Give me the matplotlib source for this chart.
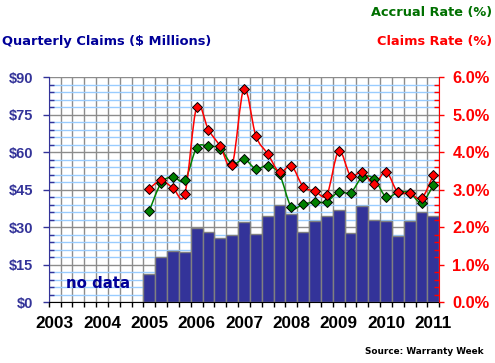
import numpy as np
import matplotlib
matplotlib.use("Agg")
import matplotlib.pyplot as plt
from matplotlib.path import Path
from matplotlib.patches import PathPatch
from matplotlib.ticker import MultipleLocator, FuncFormatter, FixedLocator

# quarters 2003Q1 .. 2011Q1, data begins 2005Q1
years = ["2003", "2004", "2005", "2006", "2007", "2008", "2009", "2010", "2011"]
first_data_quarter = 8
claims = [11.2, 18.3, 20.5, 20.3, 29.7, 28.1, 25.9, 27.1, 32.1, 27.5, 34.7, 39.1,
          35.5, 28.1, 32.5, 34.7, 36.9, 27.7, 38.5, 33.1, 32.5, 26.7, 32.5, 36.1, 34.7]
claims_rate = [3.03, 3.25, 3.05, 2.89, 5.21, 4.60, 4.16, 3.67, 5.70, 4.44, 3.96, 3.47,
               3.64, 3.08, 2.97, 2.87, 4.03, 3.38, 3.48, 3.15, 3.48, 2.93, 2.92, 2.77, 3.40]
accrual_rate = [2.44, 3.18, 3.34, 3.25, 4.12, 4.16, 4.10, 3.68, 3.82, 3.56, 3.64, 3.41,
                2.54, 2.62, 2.67, 2.68, 2.95, 2.92, 3.34, 3.29, 2.81, 2.93, 2.92, 2.66, 3.12]

NAVY = "#333399"
GREEN = "#007000"
RED = "#ff0000"

n_slots = 33
x = np.arange(first_data_quarter, first_data_quarter + len(claims))


def smooth_path(xs, ys):
    # Excel-style smoothed line: bezier segments through each point
    pts = np.column_stack([np.asarray(xs, float), np.asarray(ys, float)])
    verts = [pts[0]]
    codes = [Path.MOVETO]
    for i in range(len(pts) - 1):
        p0 = pts[i - 1] if i > 0 else pts[i]
        p1, p2 = pts[i], pts[i + 1]
        p3 = pts[i + 2] if i + 2 < len(pts) else pts[i + 1]
        verts += [p1 + (p2 - p0) / 6, p2 - (p3 - p1) / 6, p2]
        codes += [Path.CURVE4] * 3
    return Path(verts, codes)


fig = plt.figure(figsize=(4.95, 3.63), dpi=100)
ax = fig.add_axes([48.7 / 495, 1 - 302.3 / 363, (439.3 - 48.7) / 495, (302.3 - 77.3) / 363])

ax.bar(x, claims, width=1.0, color=NAVY, edgecolor="#808080", linewidth=1, zorder=2)
ax.set_xlim(-0.5, n_slots - 0.5)
ax.set_ylim(0, 90)
ax.set_axisbelow(True)

ax.yaxis.set_major_locator(MultipleLocator(15))
ax.yaxis.set_minor_locator(MultipleLocator(3))
ax.yaxis.set_major_formatter(FuncFormatter(lambda v, p: "$%d" % v))
ax.xaxis.set_major_locator(FixedLocator(np.arange(0, n_slots, 4)))
ax.set_xticklabels(years)
ax.xaxis.set_minor_locator(FixedLocator(np.arange(-0.5, n_slots, 1)))

ax.grid(which="minor", axis="y", color="#99ccff", linewidth=1)
ax.grid(which="major", axis="y", color="#8c8c8c", linewidth=1)
ax.grid(which="minor", axis="x", color="#8c8c8c", linewidth=1)

ax.tick_params(axis="y", which="major", direction="out", length=4, width=1,
               colors=NAVY, labelsize=10.5, pad=7)
ax.tick_params(axis="y", which="minor", direction="in", length=3.5, width=1, color=NAVY)
ax.tick_params(axis="x", which="major", length=0, labelsize=12.3, pad=10, labelcolor="black")
ax.tick_params(axis="x", which="minor", direction="out", length=3.5, width=1, color="black")
for lab in ax.get_yticklabels() + ax.get_xticklabels():
    lab.set_fontweight("bold")
    lab.set_fontfamily("Liberation Sans")

ax.spines["top"].set_visible(False)
ax.spines["right"].set_visible(False)
ax.spines["left"].set_color(NAVY)
ax.spines["bottom"].set_color("black")

ax.text(1.0, 5.6, "no data", color="#000099", fontsize=10.8, fontweight="bold",
        family="DejaVu Sans", ha="left", va="baseline", zorder=3)

ax2 = ax.twinx()
ax2.set_ylim(0, 6)
ax2.patch.set_visible(False)
ax2.yaxis.set_major_locator(MultipleLocator(1))
ax2.yaxis.set_minor_locator(MultipleLocator(0.2))
ax2.yaxis.set_major_formatter(FuncFormatter(lambda v, p: "%.1f%%" % v))
ax2.tick_params(axis="y", which="major", direction="out", length=3.5, width=1,
                colors=RED, labelsize=11.8, pad=6)
ax2.tick_params(axis="y", which="minor", direction="in", length=3.5, width=1, color=RED)
for lab in ax2.get_yticklabels():
    lab.set_fontweight("bold")
    lab.set_fontfamily("Liberation Sans")
for s in ["top", "left", "bottom"]:
    ax2.spines[s].set_visible(False)
ax2.spines["right"].set_color(RED)

for series, col in [(accrual_rate, "#008000"), (claims_rate, RED)]:
    ax2.add_patch(PathPatch(smooth_path(x, series), facecolor="none", edgecolor=col,
                            linewidth=1.1, zorder=3))
    ax2.plot(x, series, linestyle="none", marker="D", markersize=5,
             markerfacecolor=col, markeredgecolor="black", markeredgewidth=0.7, zorder=4)

fig.text(492 / 495, 1 - 12.5 / 363, "Accrual Rate (%)", color=GREEN, fontsize=9.3,
         fontweight="bold", ha="right", va="center")
fig.text(2 / 495, 1 - 41.5 / 363, "Quarterly Claims ($ Millions)", color="#000099", fontsize=9.4,
         fontweight="bold", ha="left", va="center")
fig.text(492 / 495, 1 - 41.5 / 363, "Claims Rate (%)", color=RED, fontsize=9.3,
         fontweight="bold", ha="right", va="center")
fig.text(484 / 495, 1 - 352 / 363, "Source: Warranty Week", color="black", fontsize=6.4,
         fontweight="bold", ha="right", va="center")

fig.savefig("out.png", dpi=100)
